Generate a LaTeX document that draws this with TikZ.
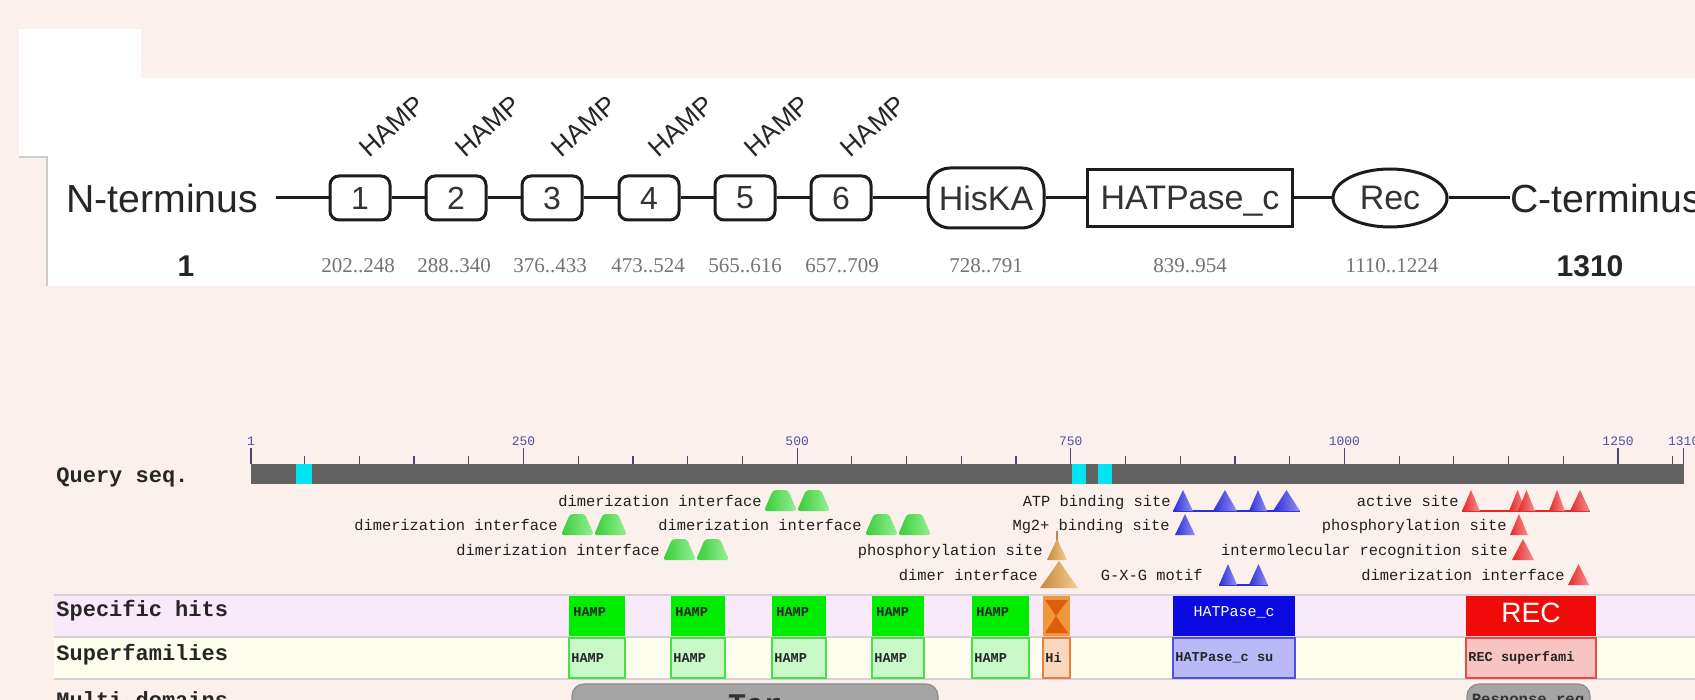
\documentclass[tikz,border=0pt]{standalone}
\usepackage{fontspec}
\setmainfont{Liberation Sans}
\newfontfamily\monofont{Liberation Mono}
\newfontfamily\numfont{Liberation Serif}
\usetikzlibrary{shapes.geometric}

\definecolor{bgpink}{RGB}{252,240,237}
\definecolor{inkdark}{RGB}{28,28,28}
\definecolor{panelrule}{RGB}{205,205,205}
\definecolor{barcol}{RGB}{98,98,98}
\definecolor{cyanmark}{RGB}{0,228,240}
\definecolor{ticklab}{RGB}{80,80,170}
\definecolor{tickcol}{RGB}{70,70,110}
\definecolor{spband}{RGB}{249,234,249}
\definecolor{sfband}{RGB}{254,254,238}
\definecolor{bandrule}{RGB}{215,208,215}
\definecolor{grnL}{RGB}{55,205,55}
\definecolor{grnR}{RGB}{150,240,150}
\definecolor{bluL}{RGB}{45,45,215}
\definecolor{bluR}{RGB}{145,145,245}
\definecolor{redL}{RGB}{228,40,40}
\definecolor{redR}{RGB}{246,145,145}
\definecolor{tanL}{RGB}{200,135,60}
\definecolor{tanR}{RGB}{246,205,145}
\definecolor{hampgreen}{RGB}{0,236,0}
\definecolor{hampsf}{RGB}{200,248,200}
\definecolor{hampedge}{RGB}{70,225,70}
\definecolor{hkorange}{RGB}{240,150,60}
\definecolor{hkdark}{RGB}{222,95,10}
\definecolor{hksf}{RGB}{248,215,190}
\definecolor{hkedge}{RGB}{230,130,60}
\definecolor{atpblue}{RGB}{10,10,225}
\definecolor{atpsf}{RGB}{185,185,245}
\definecolor{atpedge}{RGB}{80,80,235}
\definecolor{recred}{RGB}{240,10,10}
\definecolor{recsf}{RGB}{248,195,195}
\definecolor{recedge}{RGB}{240,70,70}
\definecolor{mdgray}{RGB}{165,165,165}
\definecolor{mdedge}{RGB}{140,140,140}

% two flat-topped humps marking a dimerization interface: left x, row y
\newcommand{\dimerglyph}[2]{%
  \foreach \dd in {0,33}{%
    \shade[left color=grnL, right color=grnR, rounded corners=1.5pt]
      (#1+\dd,#2+9) -- ++(9,-21) -- ++(15,0) -- ++(9,21) -- cycle;}}
% triangular site mark: left x, width, row y, palette
\newcommand{\siteglyph}[4]{%
  \shade[left color=#4L, right color=#4R]
    (#1,#3+9) -- ++(#2/2,-21) -- ++(#2/2,21) -- cycle;}
% thin base joining a run of site marks: from x, to x, row y, palette
\newcommand{\siterun}[4]{\draw[#4L, line width=0.8pt] (#1,#3+9) -- (#2,#3+9);}

\tikzset{
  conn/.style={draw=inkdark, line width=1.5pt},
  hampbox/.style={draw=inkdark, line width=1.5pt, rounded corners=4.5pt,
    minimum width=30pt, minimum height=22pt, inner sep=0pt,
    font=\fontsize{16}{16}\selectfont, text=black!80},
  kinbox/.style={draw=inkdark, line width=1.5pt, rounded corners=11pt,
    minimum width=58pt, minimum height=30pt, inner sep=0pt,
    font=\fontsize{17}{17}\selectfont, text=black!80},
  atpbox/.style={draw=inkdark, line width=1.7pt,
    minimum width=102.5pt, minimum height=28.5pt, inner sep=0pt, text depth=0pt,
    font=\fontsize{17}{17}\selectfont, text=black!80},
  recell/.style={ellipse, draw=inkdark, line width=1.5pt,
    minimum width=57pt, minimum height=29pt, inner sep=0pt,
    font=\fontsize{17}{17}\selectfont, text=black!80},
  termlab/.style={inner sep=0pt, font=\fontsize{19.6}{20}\selectfont, text=black!85},
  hamplab/.style={inner sep=0pt, font=\fontsize{13.2}{13}\selectfont, text=black!85, rotate=42},
  rnglab/.style={inner sep=0pt, font=\numfont\fontsize{10.5}{11}\selectfont, text=black!55},
  endnum/.style={inner sep=0pt, font=\bfseries\fontsize{15}{15}\selectfont, text=black!85},
  rowhead/.style={inner sep=0pt, anchor=base west, font=\monofont\bfseries\fontsize{11}{11}\selectfont, text=black!85},
  ticknum/.style={inner sep=0pt, font=\monofont\fontsize{6.5}{6.5}\selectfont, text=ticklab},
  feat/.style={inner sep=0pt, anchor=base east, font=\monofont\fontsize{7.7}{8}\selectfont, text=black!88},
  hittext/.style={inner sep=0pt, anchor=west, font=\monofont\bfseries\fontsize{6.8}{7}\selectfont, text=black!85},
  hitwhite/.style={inner sep=0pt, font=\monofont\fontsize{7.5}{8}\selectfont, text=white},
}

\begin{document}
\begin{tikzpicture}[x=0.5pt,y=-0.5pt]
\useasboundingbox (0,0) rectangle (1695,700);
\clip (0,0) rectangle (1695,700);
\fill[bgpink] (0,0) rectangle (1695,700);

% ---------- domain architecture panel ----------
\fill[white] (19,29) rectangle (141,157);
\fill[white] (47,78) rectangle (1695,286);
\draw[panelrule, line width=0.6pt] (19,157) -- (47,157) -- (47,286);

\node[termlab, anchor=west] (nterm) at (66,198) {N-terminus};
\foreach \i/\cx in {1/360,2/456,3/552,4/649,5/745,6/841}{
  \node[hampbox] (b\i) at (\cx,198) {\i};
  \node[hamplab] (h\i) at (\cx+32,126) {HAMP};
}
\node[kinbox] (hiska) at (986,198) {HisKA};
\node[atpbox] (hatp) at (1190,198) {HATPase\_c};
\node[recell] (rec) at (1390,198) {Rec};
\node[termlab, anchor=west] (cterm) at (1510,198) {C-terminus};

\draw[conn, shorten <=9pt] (nterm) -- (b1);
\foreach \a/\b in {b1/b2,b2/b3,b3/b4,b4/b5,b5/b6,b6/hiska,hiska/hatp,hatp/rec,rec/cterm}
  \draw[conn] (\a) -- (\b);

\node[endnum] (pos1) at (186,266) {1};
\foreach \n/\cx/\t in {r1/358/202..248,r2/454/288..340,r3/550/376..433,r4/648/473..524,
    r5/745/565..616,r6/842/657..709,r7/986/728..791,r8/1190/839..954,r9/1392/1110..1224}
  \node[rnglab] (\n) at (\cx,266) {\t};
\node[endnum] (pos1310) at (1590,266) {1310};

% ---------- conserved domain graphic ----------
\node[rowhead] (qseq) at (56,482) {Query seq.};
\fill[barcol] (251,464) rectangle (1684,484);
\foreach \a/\b in {296/312,1072/1086,1098/1112}
  \fill[cyanmark] (\a,464) rectangle (\b,484);
\foreach \r in {50,100,...,1300}
  \draw[tickcol, line width=0.6pt] ({251+(\r-1)*1.0945},456) -- ++(0,8);
\foreach \r/\nm in {1/t1,250/t250,500/t500,750/t750,1000/t1000,1250/t1250,1310/t1310}{
  \draw[tickcol, line width=0.6pt] ({251+(\r-1)*1.0945},448) -- ++(0,16);
  \node[ticknum] (\nm) at ({251+(\r-1)*1.0945},441) {\r};
}

% site annotation rows
\node[feat] (dimA) at (762,506) {dimerization interface};
\dimerglyph{764}{502}
\node[feat] (atpsite) at (1171,506) {ATP binding site};
\siterun{1173}{1300}{502}{blu}
\siteglyph{1173}{20}{502}{blu}
\siteglyph{1213}{24}{502}{blu}
\siteglyph{1249}{18}{502}{blu}
\siteglyph{1273}{27}{502}{blu}
\node[feat] (actsite) at (1459,506) {active site};
\siterun{1462}{1590}{502}{red}
\siteglyph{1462}{18}{502}{red}
\siteglyph{1509}{17}{502}{red}
\siteglyph{1518}{17}{502}{red}
\siteglyph{1549}{16}{502}{red}
\siteglyph{1570}{20}{502}{red}

\node[feat] (dimB) at (558,530) {dimerization interface};
\dimerglyph{561}{526}
\node[feat] (dimC) at (862,530) {dimerization interface};
\dimerglyph{865}{526}
\node[feat] (mgsite) at (1170,530) {Mg2+ binding site};
\siteglyph{1175}{20}{526}{blu}
\node[feat] (phosB) at (1507,530) {phosphorylation site};
\siteglyph{1510}{18}{526}{red}

\node[feat] (dimD) at (660,555) {dimerization interface};
\dimerglyph{663}{551}
\node[feat] (phosA) at (1043,555) {phosphorylation site};
\draw[tanL, line width=0.6pt] (1057,531) -- (1057,541);
\siteglyph{1047}{20}{551}{tan}
\node[feat] (imrsite) at (1508,555) {intermolecular recognition site};
\siteglyph{1512}{22}{551}{red}

\node[feat] (dimer) at (1038,580) {dimer interface};
\shade[left color=tanL, right color=tanR] (1040,588) -- (1059,561) -- (1078,588) -- cycle;
\node[feat] (gxg) at (1203,580) {G-X-G motif};
\siterun{1219}{1268}{576}{blu}
\siteglyph{1219}{18}{576}{blu}
\siteglyph{1249}{19}{576}{blu}
\node[feat] (dimE) at (1565,580) {dimerization interface};
\siteglyph{1568}{21}{576}{red}

% hit bands
\fill[spband] (54,595) rectangle (1695,637);
\fill[sfband] (54,637) rectangle (1695,679);
\foreach \yy in {595,637,679}
  \draw[bandrule, line width=0.6pt] (54,\yy) -- (1695,\yy);
\node[rowhead] (spec) at (56,616) {Specific hits};
\node[rowhead] (superf) at (56,660) {Superfamilies};
\node[rowhead] (multi) at (56,707) {Multi-domains};

\foreach \a/\b [count=\k] in {569/625,671/725,772/826,872/924,972/1029}{
  \fill[hampgreen] (\a,596) rectangle (\b,636);
  \node[hittext] (sh\k) at (\a+4,612) {HAMP};
  \filldraw[fill=hampsf, draw=hampedge, line width=0.8pt] (\a,638) rectangle (\b,678);
  \node[hittext] (sf\k) at (\a+2,658) {HAMP};
}
% HisKA hit
\fill[hkorange] (1043,596) rectangle (1070,636);
\fill[hkdark] (1045,600) -- (1068,600) -- (1056,616) -- (1068,633) -- (1045,633) -- (1056,616) -- cycle;
\filldraw[fill=hksf, draw=hkedge, line width=0.8pt] (1043,638) rectangle (1070,678);
\node[hittext] (sfhk) at (1045,658) {Hi};
% HATPase_c hit
\fill[atpblue] (1173,596) rectangle (1295,636);
\node[hitwhite] (shatp) at (1234,612) {HATPase\_c};
\filldraw[fill=atpsf, draw=atpedge, line width=0.8pt] (1173,638) rectangle (1295,678);
\node[hittext] (sfatp) at (1175,658) {HATPase\_c su};
% REC hit
\fill[recred] (1466,596) rectangle (1596,636);
\node[inner sep=0pt, font=\fontsize{14}{14}\selectfont, text=white] (shrec) at (1531,613) {REC};
\filldraw[fill=recsf, draw=recedge, line width=0.8pt] (1466,638) rectangle (1596,678);
\node[hittext] (sfrec) at (1468,658) {REC superfami};

% multi-domain hits
\filldraw[fill=mdgray, draw=mdedge, line width=0.6pt, rounded corners=6pt] (572,684) rectangle (938,740);
\node[inner sep=0pt, anchor=base, font=\monofont\bfseries\fontsize{15}{15}\selectfont, text=black!80] (mdtar) at (755,714) {Tar};
\filldraw[fill=mdgray, draw=mdedge, line width=0.6pt, rounded corners=6pt] (1467,684) rectangle (1590,740);
\node[inner sep=0pt, anchor=base, font=\monofont\bfseries\fontsize{7.8}{8}\selectfont, text=black!80] (mdrr) at (1528,704) {Response reg};
\end{tikzpicture}
\end{document}
